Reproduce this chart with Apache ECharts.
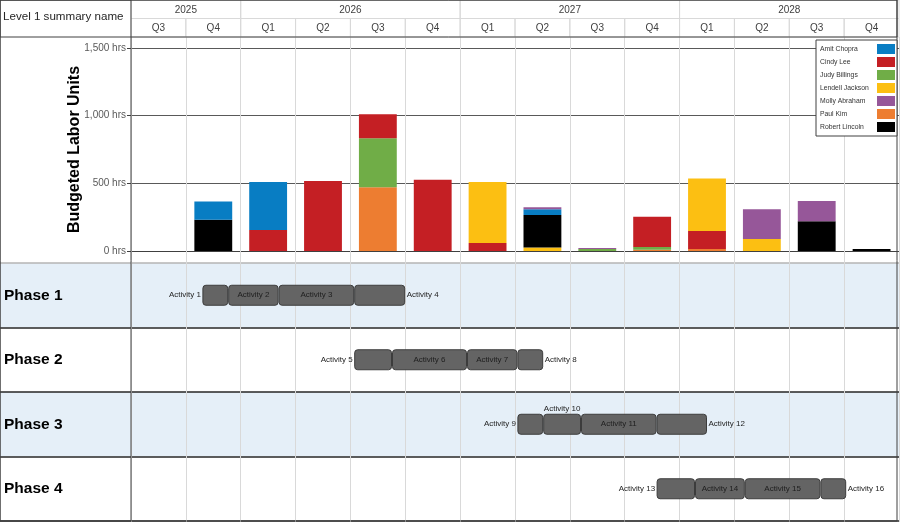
<!DOCTYPE html>
<html><head><meta charset="utf-8">
<script src="https://cdn.jsdelivr.net/npm/echarts@6/dist/echarts.min.js"></script>
<style>html,body{margin:0;padding:0;background:#fff}#c{width:900px;height:522px}</style>
</head><body><div id="c"></div>
<script>
// ---------- data ----------
const years = ['2025', '2026', '2027', '2028'];
const yearQuarterCount = [2, 4, 4, 4];
const quarterLabels = ['Q3','Q4','Q1','Q2','Q3','Q4','Q1','Q2','Q3','Q4','Q1','Q2','Q3','Q4'];
const quarterCategories = ['Q3 2025','Q4 2025','Q1 2026','Q2 2026','Q3 2026','Q4 2026','Q1 2027','Q2 2027','Q3 2027','Q4 2027','Q1 2028','Q2 2028','Q3 2028','Q4 2028'];

// stacking order (bottom to top)
const stackOrder = ['Paul Kim', 'Judy Billings', 'Cindy Lee', 'Lendell Jackson', 'Robert Lincoln', 'Amit Chopra', 'Molly Abraham'];
const legendOrder = ['Amit Chopra', 'Cindy Lee', 'Judy Billings', 'Lendell Jackson', 'Molly Abraham', 'Paul Kim', 'Robert Lincoln'];

const paulKim       = [0,   0,   0,   0, 471,   0,   0,   0,  0,  10,  15,   0,   0,  0];
const judyBillings  = [0,   0,   0,   0, 362,   0,   0,   0, 15,  19,   0,   0,   0,  0];
const cindyLee      = [0,   0, 155, 517, 177, 527,  60,   0,  0, 225, 133,   0,   0,  0];
const lendellJackson= [0,   0,   0,   0,   0,   0, 450,  25,  0,   0, 387,  89,   0,  0];
const robertLincoln = [0, 230,   0,   0,   0,   0,   0, 241,  0,   0,   0,   0, 219, 15];
const amitChopra    = [0, 135, 355,   0,   0,   0,   0,  42,  0,   0,   0,   0,   0,  0];
const mollyAbraham  = [0,   0,   0,   0,   0,   0,   0,  15,  8,   0,   0, 219, 151,  0];

const yMin = 0, yMax = 1500, yInterval = 500;

const phases = ['Phase 1', 'Phase 2', 'Phase 3', 'Phase 4'];
const activityNames = ['Activity 1','Activity 2','Activity 3','Activity 4','Activity 5','Activity 6','Activity 7','Activity 8',
                       'Activity 9','Activity 10','Activity 11','Activity 12','Activity 13','Activity 14','Activity 15','Activity 16'];
const activityPhase = [0,0,0,0, 1,1,1,1, 2,2,2,2, 3,3,3,3];
const activityStart = ['2025-10-28','2025-12-10','2026-03-04','2026-07-08',
                       '2026-07-08','2026-09-09','2027-01-12','2027-04-06',
                       '2027-04-06','2027-05-19','2027-07-21','2027-11-24',
                       '2027-11-24','2028-01-27','2028-04-19','2028-08-23'];
const activityEnd   = ['2025-12-10','2026-03-04','2026-07-08','2026-10-01',
                       '2026-09-09','2027-01-12','2027-04-06','2027-05-19',
                       '2027-05-19','2027-07-21','2027-11-24','2028-02-16',
                       '2028-01-27','2028-04-19','2028-08-23','2028-10-05'];
const timeMin = '2025-07-01', timeMax = '2029-01-01';

// ---------- styles ----------
const FONT = '"Liberation Sans", Arial, sans-serif';
const personColor = {
  'Amit Chopra': '#087dc3', 'Cindy Lee': '#c41f24', 'Judy Billings': '#70ad47',
  'Lendell Jackson': '#fcbf12', 'Molly Abraham': '#965799', 'Paul Kim': '#ed7d31', 'Robert Lincoln': '#000000'
};
const laborByPerson = {
  'Paul Kim': paulKim, 'Judy Billings': judyBillings, 'Cindy Lee': cindyLee, 'Lendell Jackson': lendellJackson,
  'Robert Lincoln': robertLincoln, 'Amit Chopra': amitChopra, 'Molly Abraham': mollyAbraham
};

function ts(s) { const p = s.split('-').map(Number); return new Date(p[0], p[1] - 1, p[2]).getTime(); }

// header cells
const headerCells = [];
let qAcc = 0;
years.forEach((y, i) => { headerCells.push({ start: qAcc, end: qAcc + yearQuarterCount[i], row: 0, label: y }); qAcc += yearQuarterCount[i]; });
quarterLabels.forEach((l, i) => headerCells.push({ start: i, end: i + 1, row: 1, label: l }));

function renderHeaderCell(params, api) {
  const c = headerCells[params.dataIndex];
  const p0 = api.coord([api.value(0), api.value(2)]);
  const p1 = api.coord([api.value(1), api.value(2) + 1]);
  return {
    type: 'group',
    children: [
      { type: 'rect', shape: { x: p0[0], y: p0[1], width: p1[0] - p0[0], height: p1[1] - p0[1] },
        style: { fill: 'none', stroke: '#d9d9d9', lineWidth: 1 } },
      { type: 'text', style: { text: c.label, x: (p0[0] + p1[0]) / 2, y: (p0[1] + p1[1]) / 2 + 0.5,
        align: 'center', verticalAlign: 'middle', font: '10px ' + FONT, fill: '#404040' } }
    ]
  };
}

function renderActivity(params, api) {
  const i = params.dataIndex;
  const s = api.coord([api.value(1), api.value(0)]);
  const e = api.coord([api.value(2), api.value(0)]);
  const h = 20;
  const x0 = s[0], x1 = e[0], yc = s[1], w = x1 - x0;
  const ph = activityPhase[i];
  const first = i === 0 || activityPhase[i - 1] !== ph;
  const last = i === activityPhase.length - 1 || activityPhase[i + 1] !== ph;
  let tx, ty, align, va = 'middle';
  if (first) { tx = x0 - 1.5; ty = yc; align = 'right'; }
  else if (last) { tx = x1 + 1.5; ty = yc; align = 'left'; }
  else if (w >= 45) { tx = (x0 + x1) / 2; ty = yc; align = 'center'; }
  else { tx = (x0 + x1) / 2; ty = yc - h / 2 - 1; align = 'center'; va = 'bottom'; }
  return {
    type: 'group',
    children: [
      { type: 'rect', shape: { x: x0 + 0.5, y: yc - h / 2, width: w - 1, height: h, r: 3 },
        style: { fill: '#646464', stroke: '#3c3c3c', lineWidth: 1 } },
      { type: 'text', style: { text: activityNames[i], x: tx, y: ty, align: align, verticalAlign: va,
        font: '8px ' + FONT, fill: '#1e1e1e' } }
    ]
  };
}

const rowLineColors = ['#b4b4b4', '#262626', '#262626', '#262626', '#262626'];
const hidden = { show: false };

const option = {
  animation: false,
  textStyle: { fontFamily: FONT },
  title: { text: 'Level 1 summary name', left: 3, top: 11, padding: 0,
    textStyle: { fontSize: 11.6, fontWeight: 'normal', color: '#262626', fontFamily: FONT } },
  legend: {
    data: legendOrder, orient: 'vertical', right: 3, top: 40, align: 'right', icon: 'rect',
    itemWidth: 18, itemHeight: 10, itemGap: 3, padding: [4, 2, 4, 4],
    backgroundColor: '#fff', borderColor: '#404040', borderWidth: 1, borderRadius: 0,
    selectedMode: false, z: 20,
    formatter: '{a|{name}}',
    textStyle: { rich: { a: { width: 52, align: 'left', fontSize: 6.8, color: '#333', fontFamily: FONT } } }
  },
  grid: [
    { left: 131, right: 1, top: 0, height: 37 },
    { left: 131, right: 1, top: 37, bottom: 0 },
    { left: 131, right: 1, top: 48, height: 203 },
    { left: 0, width: 131, top: 263, bottom: 1 },
    { left: 131, right: 1, top: 263, bottom: 1 },
    { left: 0, top: 0, right: 3, bottom: 1, show: true, borderColor: '#404040', borderWidth: 1, z: 10 },
    { left: 0, top: 0, right: 3, height: 37, show: true, borderColor: '#404040', borderWidth: 1, z: 10 },
    { left: 0, top: 0, width: 131, bottom: 1, show: true, borderColor: '#404040', borderWidth: 1, z: 10 }
  ],
  xAxis: [
    { gridIndex: 0, type: 'value', min: 0, max: quarterLabels.length, show: false },
    { gridIndex: 1, type: 'category', data: quarterCategories, boundaryGap: true, z: 3,
      axisLine: hidden, axisTick: hidden, axisLabel: { show: false, interval: 0 },
      splitLine: { show: true, interval: 0, lineStyle: { color: '#d9d9d9', width: 1 } } },
    { gridIndex: 2, type: 'category', data: quarterCategories, boundaryGap: true,
      axisLine: { show: true, lineStyle: { color: '#404040', width: 1 } }, axisTick: hidden, axisLabel: hidden, splitLine: hidden },
    { gridIndex: 3, type: 'value', show: false },
    { gridIndex: 4, type: 'time', min: ts(timeMin), max: ts(timeMax), show: false },
    { gridIndex: 5, type: 'value', show: false },
    { gridIndex: 6, type: 'value', show: false },
    { gridIndex: 7, type: 'value', show: false }
  ],
  yAxis: [
    { gridIndex: 0, type: 'value', min: 0, max: 2, inverse: true, show: false },
    { gridIndex: 1, type: 'value', show: false },
    { gridIndex: 2, type: 'value', min: yMin, max: yMax, interval: yInterval,
      name: 'Budgeted Labor Units', nameLocation: 'middle', nameGap: 48, nameMoveOverlap: false,
      nameTextStyle: { fontSize: 16, fontWeight: 'bold', color: '#000', fontFamily: FONT },
      axisLine: { show: true, lineStyle: { color: '#404040' } },
      axisTick: { show: true, length: 4, lineStyle: { color: '#404040' } },
      axisLabel: { margin: 5, fontSize: 10, color: '#595959', fontFamily: FONT,
        formatter: v => v.toLocaleString('en-US') + ' hrs' },
      splitLine: { show: true, lineStyle: { color: '#595959', width: 1 } } },
    { gridIndex: 3, type: 'category', data: phases, inverse: true,
      axisLine: hidden, axisTick: hidden,
      axisLabel: { inside: true, margin: 4, interval: 0, fontSize: 15.5, fontWeight: 'bold', color: '#000', fontFamily: FONT },
      splitArea: { show: true, interval: 0, areaStyle: { color: ['#e5eff8', '#ffffff'] } },
      splitLine: { show: true, interval: 0, lineStyle: { color: rowLineColors, width: 1.5 } } },
    { gridIndex: 4, type: 'category', data: phases, inverse: true,
      axisLine: hidden, axisTick: hidden, axisLabel: { show: false, interval: 0 },
      splitArea: { show: true, interval: 0, areaStyle: { color: ['#e5eff8', '#ffffff'] } },
      splitLine: { show: true, interval: 0, lineStyle: { color: rowLineColors, width: 1.5 } } },
    { gridIndex: 5, type: 'value', show: false },
    { gridIndex: 6, type: 'value', show: false },
    { gridIndex: 7, type: 'value', show: false }
  ],
  series: [
    { type: 'custom', xAxisIndex: 0, yAxisIndex: 0, renderItem: renderHeaderCell, clip: false, silent: true,
      encode: { x: [0, 1], y: 2 }, data: headerCells.map(c => [c.start, c.end, c.row]) },
    ...stackOrder.map(p => ({
      type: 'bar', name: p, xAxisIndex: 2, yAxisIndex: 2, stack: 'labor', barWidth: '69%', z: 5,
      itemStyle: { color: personColor[p] }, data: laborByPerson[p]
    })),
    { type: 'custom', xAxisIndex: 4, yAxisIndex: 4, renderItem: renderActivity, clip: false, silent: true, z: 12,
      encode: { x: [1, 2], y: 0 },
      data: activityPhase.map((p, i) => [p, ts(activityStart[i]), ts(activityEnd[i])]) }
  ]
};

const chart = echarts.init(document.getElementById('c'));
chart.setOption(option);
</script>
</body></html>
